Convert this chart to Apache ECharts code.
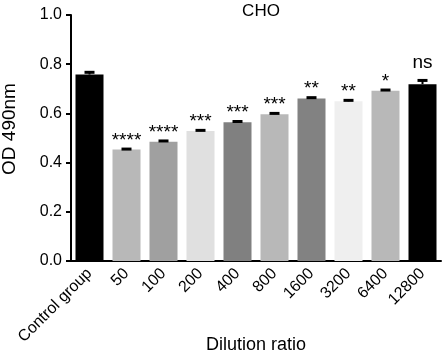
<!DOCTYPE html>
<html>
<head>
<meta charset="utf-8">
<script src="https://cdn.jsdelivr.net/npm/echarts@6/dist/echarts.min.js"></script>
<style>
  html, body { margin: 0; padding: 0; background: #fff; }
  #chart { width: 446px; height: 353px; }
</style>
</head>
<body>
<div id="chart"></div>
<script>
// data
var categories = ['Control group', '50', '100', '200', '400', '800', '1600', '3200', '6400', '12800'];
var odValues = [0.758, 0.453, 0.485, 0.528, 0.564, 0.597, 0.661, 0.649, 0.692, 0.719];
var errValues = [0.009, 0.002, 0.003, 0.003, 0.003, 0.003, 0.003, 0.004, 0.003, 0.015];
var sigLabels = ['', '****', '****', '***', '***', '***', '**', '**', '*', 'ns'];
var barColors = ['#000000', '#b8b8b8', '#a0a0a0', '#e0e0e0', '#808080', '#b8b8b8', '#828282', '#efefef', '#b8b8b8', '#000000'];

var chart = echarts.init(document.getElementById('chart'));
var font = 'Liberation Sans, Arial, sans-serif';

var errData = odValues.map(function (v, i) { return [i, v, errValues[i]]; });

var option = {
  backgroundColor: '#fff',
  animation: false,
  title: {
    text: 'CHO',
    left: 256,
    top: -2,
    textAlign: 'center',
    textStyle: { fontFamily: font, fontSize: 17, fontWeight: 'normal', color: '#000' }
  },
  grid: { left: 71, right: 5, top: 15, bottom: 92, outerBoundsMode: 'none' },
  xAxis: {
    type: 'category',
    data: categories,
    name: 'Dilution ratio',
    nameLocation: 'middle',
    nameGap: 75,
    nameMoveOverlap: false,
    nameTextStyle: { fontFamily: font, fontSize: 18, color: '#000', verticalAlign: 'top' },
    axisLine: { lineStyle: { color: '#000', width: 2 } },
    axisTick: { alignWithLabel: true, length: 5, lineStyle: { color: '#000', width: 2 } },
    axisLabel: { rotate: 45, fontFamily: font, fontSize: 16, color: '#000', margin: 10 }
  },
  yAxis: {
    type: 'value',
    min: 0,
    max: 1,
    interval: 0.2,
    name: 'OD 490nm',
    nameLocation: 'middle',
    nameGap: 52,
    nameMoveOverlap: false,
    nameTextStyle: { fontFamily: font, fontSize: 19, color: '#000', padding: [0, 0, 0, 18] },
    axisLine: { show: true, lineStyle: { color: '#000', width: 2 } },
    axisTick: { show: true, length: 5, lineStyle: { color: '#000', width: 2 } },
    splitLine: { show: false },
    axisLabel: {
      fontFamily: font, fontSize: 16, color: '#000', margin: 9,
      formatter: function (v) { return v.toFixed(1); }
    }
  },
  series: [
    {
      type: 'bar',
      barWidth: 28,
      data: odValues.map(function (v, i) {
        return { value: v, itemStyle: { color: barColors[i] } };
      })
    },
    {
      // upper error bars with cap, plus significance marks
      type: 'custom',
      data: errData,
      z: 5,
      renderItem: function (params, api) {
        var i = api.value(0);
        var v = api.value(1);
        var e = api.value(2);
        var base = api.coord([i, v]);
        var top = api.coord([i, v + e]);
        var capTop = top[1] - 1.5;
        var txt = sigLabels[params.dataIndex];
        var isNs = txt === 'ns';
        return {
          type: 'group',
          children: [
            {
              type: 'line',
              shape: { x1: base[0], y1: base[1], x2: top[0], y2: top[1] },
              style: { stroke: '#000', lineWidth: 2 }
            },
            {
              type: 'rect',
              shape: { x: top[0] - 5, y: capTop, width: 10, height: 3 },
              style: { fill: '#000' }
            },
            {
              type: 'text',
              style: {
                text: txt,
                x: top[0],
                y: isNs ? capTop - 16 : capTop - 7,
                align: 'center',
                verticalAlign: 'middle',
                fontFamily: font,
                fontSize: 19,
                fill: '#000'
              }
            }
          ]
        };
      }
    }
  ]
};

chart.setOption(option);
</script>
</body>
</html>
